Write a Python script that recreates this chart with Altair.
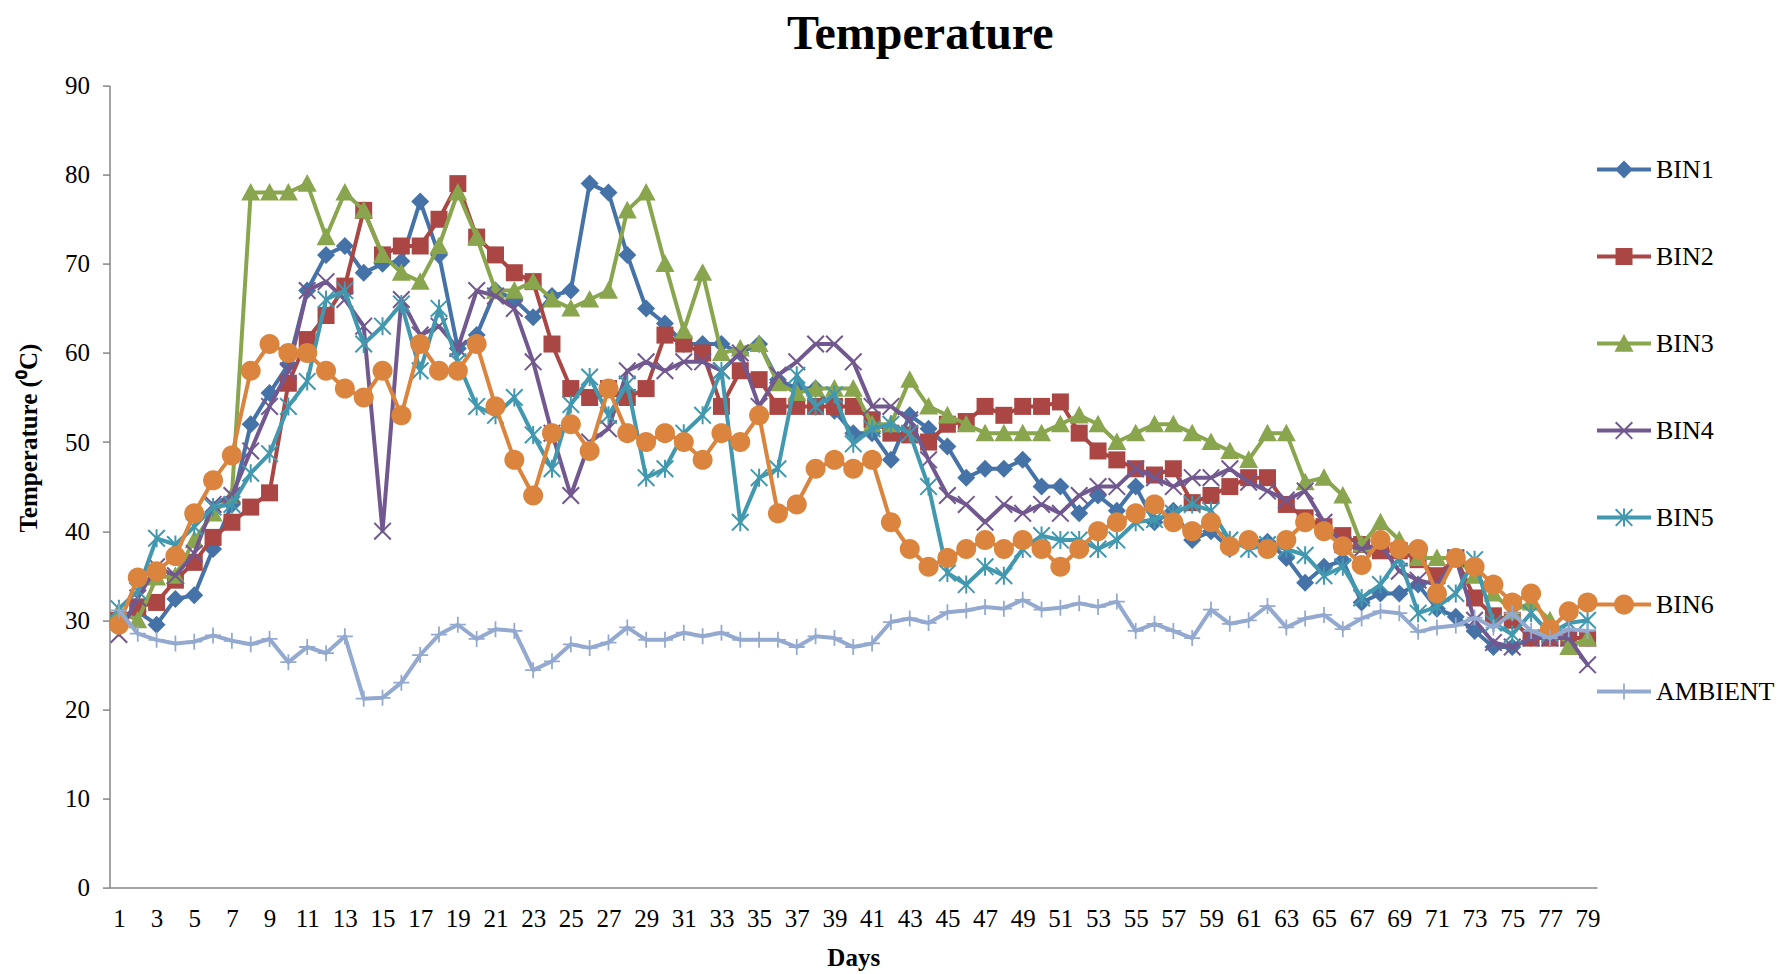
import math
import altair as alt
import pandas as pd

# ---- data -------------------------------------------------------------
days = list(range(1, 80))

bin1 = [30.0, 31.0, 29.5, 32.4, 32.8, 38.0, 43.0, 52.0, 55.5, 58.7,
        67.0, 71.0, 72.0, 69.0, 70.0, 70.3, 77.0, 71.0, 60.5, 62.0,
        67.0, 66.0, 64.0, 66.4, 67.0, 79.0, 78.0, 71.0, 65.0, 63.3,
        61.0, 61.0, 61.0, 60.0, 61.0, 57.0, 56.0, 56.0, 53.5, 51.0,
        51.0, 48.0, 53.0, 51.5, 49.5, 46.0, 47.0, 47.0, 48.0, 45.0,
        45.0, 42.0, 44.0, 42.3, 45.0, 41.0, 42.3, 39.0, 40.0, 38.0,
        39.0, 38.8, 37.0, 34.2, 36.0, 36.7, 32.0, 33.0, 33.0, 34.0,
        31.3, 30.4, 28.8, 27.0, 27.0, 28.0, 28.0, 28.0, 28.0]

bin2 = [30.0, 31.5, 32.0, 34.5, 36.5, 39.3, 41.0, 42.7, 44.3, 56.6,
        61.5, 64.2, 67.5, 76.0, 71.0, 72.0, 72.0, 75.0, 79.0, 73.0,
        71.0, 69.0, 68.0, 61.0, 56.0, 55.0, 56.0, 55.0, 56.0, 62.0,
        61.0, 60.0, 54.0, 58.0, 57.0, 54.0, 54.0, 54.0, 54.0, 54.0,
        52.5, 51.0, 50.8, 50.0, 52.0, 52.3, 54.0, 53.0, 54.0, 54.0,
        54.5, 51.0, 49.0, 48.0, 47.0, 46.3, 47.0, 43.2, 44.0, 45.0,
        46.0, 46.0, 43.0, 41.5, 40.5, 39.5, 38.5, 37.8, 37.8, 36.8,
        35.0, 37.0, 32.5, 30.5, 30.0, 28.0, 28.0, 28.0, 28.0]

bin3 = [31.0, 30.0, 34.8, 35.0, 39.0, 42.0, 44.0, 78.0, 78.0, 78.0,
        79.0, 73.0, 78.0, 76.0, 71.0, 69.0, 68.0, 72.0, 78.0, 73.0,
        67.0, 67.0, 68.0, 66.0, 65.0, 66.0, 67.0, 76.0, 78.0, 70.0,
        62.5, 69.0, 60.0, 60.5, 61.0, 56.6, 55.5, 56.0, 56.0, 56.0,
        52.0, 52.0, 57.0, 54.0, 53.0, 52.0, 51.0, 51.0, 51.0, 51.0,
        52.0, 53.0, 52.0, 50.0, 51.0, 52.0, 52.0, 51.0, 50.0, 49.0,
        48.0, 51.0, 51.0, 45.5, 46.0, 44.0, 38.5, 41.0, 39.0, 37.0,
        37.0, 37.0, 35.0, 33.0, 31.0, 32.0, 30.0, 27.0, 28.0]

bin4 = [28.4, 32.5, 36.0, 35.0, 37.5, 43.0, 44.0, 49.0, 54.0, 58.0,
        67.0, 68.0, 66.0, 63.0, 40.0, 66.0, 62.0, 63.0, 60.5, 67.0,
        66.4, 65.0, 59.0, 51.0, 44.0, 50.0, 51.5, 58.0, 59.0, 58.0,
        59.0, 59.0, 58.0, 60.0, 54.0, 57.5, 59.0, 61.0, 61.0, 59.0,
        54.0, 54.0, 52.5, 48.0, 44.0, 43.0, 41.0, 43.0, 42.0, 43.0,
        42.0, 44.0, 45.0, 45.0, 47.0, 46.0, 45.0, 46.0, 46.0, 47.0,
        45.5, 44.5, 43.5, 44.5, 41.0, 38.5, 38.0, 38.5, 35.5, 34.5,
        34.0, 37.0, 30.0, 27.5, 27.0, 28.0, 28.0, 28.0, 25.0]

bin5 = [31.3, 33.3, 39.2, 38.5, 40.5, 42.7, 43.0, 46.5, 48.7, 54.0,
        56.8, 66.0, 67.0, 61.0, 63.0, 65.5, 58.0, 65.0, 59.0, 54.0,
        53.0, 55.0, 50.8, 47.0, 54.2, 57.3, 53.0, 56.5, 46.0, 47.0,
        51.0, 53.0, 58.0, 41.0, 46.0, 47.0, 57.5, 54.0, 55.3, 49.8,
        51.5, 52.0, 51.0, 45.0, 35.3, 34.0, 36.0, 35.0, 38.0, 39.5,
        39.0, 39.0, 38.0, 39.0, 41.0, 41.3, 42.0, 43.0, 42.3, 39.0,
        38.0, 38.5, 38.0, 37.3, 35.0, 36.0, 32.5, 34.0, 37.0, 30.8,
        31.5, 33.0, 36.8, 29.7, 28.4, 30.8, 28.5, 29.7, 30.0]

bin6 = [29.5, 34.8, 35.5, 37.2, 42.0, 45.7, 48.5, 58.0, 61.0, 60.0,
        60.0, 58.0, 56.0, 55.0, 58.0, 53.0, 61.0, 58.0, 58.0, 61.0,
        54.0, 48.0, 44.0, 51.0, 52.0, 49.0, 56.0, 51.0, 50.0, 51.0,
        50.0, 48.0, 51.0, 50.0, 53.0, 42.0, 43.0, 47.0, 48.0, 47.0,
        48.0, 41.0, 38.0, 36.0, 37.0, 38.0, 39.0, 38.0, 39.0, 38.0,
        36.0, 38.0, 40.0, 41.0, 42.0, 43.0, 41.0, 40.0, 41.0, 38.3,
        39.0, 38.0, 39.0, 41.0, 40.0, 38.3, 36.2, 39.0, 38.0, 38.0,
        33.0, 37.0, 36.0, 34.0, 32.0, 33.0, 29.0, 31.0, 32.0]

ambient = [31.1, 28.5, 27.8, 27.4, 27.6, 28.3, 27.7, 27.3, 27.9, 25.3,
           27.0, 26.3, 28.2, 21.2, 21.3, 23.0, 26.1, 28.4, 29.5, 27.9,
           29.0, 28.8, 24.4, 25.4, 27.3, 26.9, 27.5, 29.2, 27.8, 27.8,
           28.6, 28.2, 28.6, 27.8, 27.8, 27.8, 27.0, 28.2, 28.0, 27.0,
           27.4, 29.8, 30.2, 29.7, 30.9, 31.1, 31.5, 31.3, 32.3, 31.2,
           31.4, 31.9, 31.5, 32.1, 28.8, 29.6, 28.8, 28.0, 31.2, 29.6,
           30.0, 31.6, 29.2, 30.2, 30.6, 29.0, 30.2, 31.0, 30.8, 28.7,
           29.2, 29.4, 30.3, 29.2, 30.8, 28.8, 28.0, 29.0, 28.8]

series_names = ["BIN1", "BIN2", "BIN3", "BIN4", "BIN5", "BIN6", "AMBIENT"]
series_values = [bin1, bin2, bin3, bin4, bin5, bin6, ambient]
series_colors = ["#4572A7", "#AA4643", "#89A54E", "#71588F",
                 "#4198AF", "#DB843D", "#93A9CF"]

rows = []
for name, vals in zip(series_names, series_values):
    for d, v in zip(days, vals):
        rows.append({"day": d, "series": name, "temp": v})
df = pd.DataFrame(rows)

# ---- marker geometry (unit box -1..1, all polygons clockwise) ----------
def poly(points, k=1.0):
    return "M" + "L".join(f"{x * k:.4f},{y * k:.4f}" for x, y in points) + "Z"

W = 0.157   # diagonal stroke half-offset
V = 0.11    # straight stroke half-width
diag1 = [(-1 + W, -1), (1, 1 - W), (1 - W, 1), (-1, -1 + W)]
diag2 = [(1 - W, -1), (1, -1 + W), (-1 + W, 1), (-1, 1 - W)]
vbar = [(-V, -1), (V, -1), (V, 1), (-V, 1)]
hbar = [(-1, -V), (1, -V), (1, V), (-1, V)]
circle = [(math.cos(2 * math.pi * i / 32), math.sin(2 * math.pi * i / 32))
          for i in range(32)]

shapes = {
    "BIN1": [[(0, -1), (1, 0), (0, 1), (-1, 0)]],
    "BIN2": [[(-1, -1), (1, -1), (1, 1), (-1, 1)]],
    "BIN3": [[(0, -1), (1, 0.85), (-1, 0.85)]],
    "BIN4": [diag1, diag2],
    "BIN5": [diag1, diag2, vbar],
    "BIN6": [circle],
    "AMBIENT": [vbar, hbar],
}
marker_side = {"BIN1": 18, "BIN2": 17, "BIN3": 19, "BIN4": 18,
               "BIN5": 18, "BIN6": 20, "AMBIENT": 16}

def shape_path(name, k=1.0):
    return "".join(poly(p, k) for p in shapes[name])

# legend symbol: a short line with the series marker in the middle
LEG = 54.0                      # legend symbol length in px
half = LEG / 2.0
line_h = 2.0 / half
legend_line = poly([(-1, -line_h), (1, -line_h), (1, line_h), (-1, line_h)])
legend_paths = [legend_line + shape_path(n, (marker_side[n] / 2.0) / half)
                for n in series_names]

FONT = "Liberation Serif"
AXIS_GREY = "#868686"

color_scale = alt.Scale(domain=series_names, range=series_colors)

x_enc = alt.X(
    "day:Q",
    scale=alt.Scale(domain=[0.5, 79.5], nice=False, zero=False),
    axis=alt.Axis(
        values=list(range(1, 80, 2)), format="d", grid=False,
        ticks=False, tickSize=0, domainColor=AXIS_GREY, domainWidth=1.5,
        labelFont=FONT, labelFontSize=25, labelColor="black",
        labelPadding=19, labelFlush=False, labelOverlap=False,
        title="Days", titleFont=FONT, titleFontSize=25,
        titleFontWeight="bold", titleColor="black", titlePadding=14,
    ),
)
y_enc = alt.Y(
    "temp:Q",
    scale=alt.Scale(domain=[0, 90], nice=False, zero=True),
    axis=alt.Axis(
        values=list(range(0, 91, 10)), grid=False,
        tickSize=7, tickColor=AXIS_GREY, tickWidth=1.5,
        domainColor=AXIS_GREY, domainWidth=1.5,
        labelFont=FONT, labelFontSize=25, labelColor="black",
        labelPadding=13,
        title="Temperature (⁰C)", titleFont=FONT, titleFontSize=25,
        titleFontWeight="bold", titleColor="black",
        titleX=-81, titleY=352, titleAngle=270,
        titleAlign="center", titleBaseline="middle",
    ),
)

legend_props = dict(
    title=None, orient="none", legendX=1487.5, legendY=57,
    labelFont=FONT, labelFontSize=26, labelColor="black",
    symbolSize=LEG * LEG, symbolStrokeWidth=0, symbolOpacity=1,
    rowPadding=47, labelOffset=5, padding=0,
)

# layer without rows of its own: it only carries the legend
legend_layer = alt.Chart().transform_filter("false").mark_point(
    filled=True, opacity=1
).encode(
    x=x_enc, y=y_enc,
    color=alt.Color("series:N", scale=color_scale,
                    legend=alt.Legend(**legend_props)),
    shape=alt.Shape("series:N",
                    scale=alt.Scale(domain=series_names, range=legend_paths),
                    legend=alt.Legend(**legend_props)),
)

layers = [legend_layer]
for name in series_names:
    sub = alt.Chart().transform_filter(alt.datum.series == name)
    layers.append(
        sub.mark_line(strokeWidth=4, strokeJoin="round", strokeCap="round").encode(
            x=x_enc, y=y_enc,
            color=alt.Color("series:N", scale=color_scale, legend=None),
        )
    )
    layers.append(
        sub.mark_point(shape=shape_path(name), size=marker_side[name] ** 2,
                       filled=True, opacity=1, strokeWidth=0).encode(
            x=x_enc, y=y_enc,
            color=alt.Color("series:N", scale=color_scale, legend=None),
        )
    )

chart = alt.layer(*layers, data=df).properties(
    width=1487.5,
    height=802,
    background="white",
    autosize=alt.AutoSizeParams(type="none"),
    padding={"left": 109.5, "top": 85.6, "right": 192, "bottom": 86.4},
    title=alt.TitleParams(
        "Temperature", font=FONT, fontSize=48, fontWeight="bold",
        color="black", anchor="middle", dx=67, offset=15,
    ),
).configure_view(strokeWidth=0, stroke="transparent")

chart.save("out.html", embed_options={"renderer": "svg", "actions": False})
